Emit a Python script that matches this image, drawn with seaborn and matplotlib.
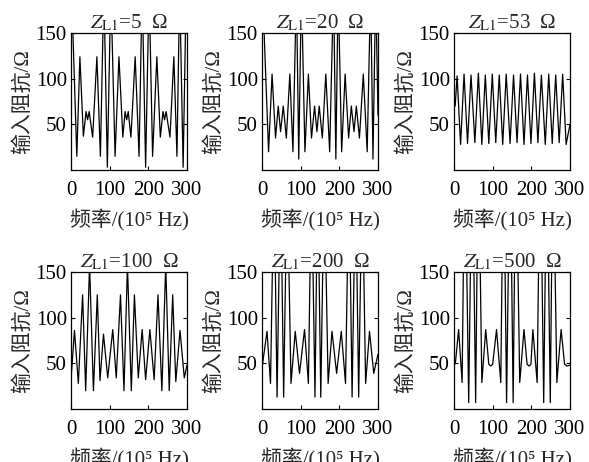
#!/usr/bin/env python3
"""Input impedance vs frequency for six load impedances Z_L1."""

import matplotlib
matplotlib.use("Agg")
import matplotlib.pyplot as plt
import seaborn as sns

# load impedance of each panel (ohm)
loads = ["5", "20", "53", "100", "200", "500"]

# vertices: frequency (10^5 Hz) and |Z_in| (ohm)
x_5 = [2, 15, 23, 32, 39, 43, 47, 56, 67, 76, 85, 94, 103, 114, 124, 134, 140, 144, 148, 155,
       166, 176, 184, 193, 202, 211, 222, 231, 238, 242, 246, 256, 266, 274, 281, 290, 298]
y_5 = [190, 15, 124, 37, 64, 55, 64, 36, 124, 15, 200, 3, 200, 15, 124, 36, 64, 55, 64, 36,
       124, 15, 200, 3, 200, 15, 124, 36, 64, 55, 64, 36, 124, 15, 200, 3, 200]

x_20 = [2, 17, 26, 35, 42, 48, 55, 63, 72, 80, 89, 95, 102, 111, 120, 128, 136, 142, 148, 156,
        165, 175, 185, 191, 197, 206, 215, 224, 231, 238, 244, 252, 262, 272, 281, 287, 294, 300]
y_20 = [190, 20, 105, 35, 70, 42, 70, 35, 105, 20, 200, 12, 200, 20, 105, 35, 70, 42, 70, 35,
        105, 20, 200, 12, 200, 20, 105, 35, 70, 42, 70, 35, 105, 20, 200, 12, 200, 60]

x_53 = [3, 8, 17, 26, 35, 44, 54, 63, 72, 81, 90, 99, 108, 117, 126, 135, 145, 154, 163, 172,
        181, 190, 199, 208, 217, 226, 236, 245, 254, 263, 272, 281, 290, 300]
y_53 = [70, 103, 28, 105, 29, 104, 30, 106, 28, 104, 29, 105, 30, 104, 28, 105, 29, 104, 30, 105,
        28, 104, 29, 106, 30, 104, 28, 105, 29, 104, 30, 105, 28, 50]

x_100 = [1, 9, 19, 30, 38, 48, 58, 68, 75, 84, 95, 108, 117, 128, 137, 146, 156, 164, 174, 184,
         193, 204, 215, 225, 235, 245, 254, 263, 271, 282, 293, 300]
y_100 = [38, 86, 28, 125, 20, 158, 20, 125, 31, 82, 34, 87, 34, 125, 20, 158, 20, 125, 34, 87,
         32, 87, 32, 125, 20, 158, 20, 125, 30, 86, 34, 48]

x_200 = [1, 13, 22, 31, 39, 48, 56, 65, 75, 86, 97, 110, 120, 128, 137, 144, 152, 161, 171, 181,
         193, 205, 216, 225, 233, 242, 250, 259, 268, 278, 289, 300]
y_200 = [48, 85, 28, 260, 13, 260, 13, 260, 28, 85, 39, 87, 28, 260, 13, 260, 13, 260, 28, 85,
         39, 85, 28, 260, 13, 260, 13, 260, 28, 85, 39, 60]

x_500 = [1, 4, 12, 21, 28, 38, 47, 56, 63, 72, 82, 90, 95, 100, 110, 121, 128, 136, 145, 153,
         160, 170, 181, 189, 194, 199, 204, 215, 223, 232, 240, 249, 256, 266, 277, 286, 292, 300]
y_500 = [48, 52, 87, 29, 300, 7, 300, 7, 300, 29, 87, 49, 47, 49, 87, 29, 300, 7, 300, 7,
         300, 29, 87, 49, 47, 49, 87, 29, 300, 7, 300, 7, 300, 29, 87, 49, 47, 48]

series = [(x_5, y_5), (x_20, y_20), (x_53, y_53), (x_100, y_100), (x_200, y_200), (x_500, y_500)]

sns.set_style("ticks")
plt.rcParams["font.family"] = ["Liberation Serif", "Noto Sans CJK SC", "DejaVu Serif"]
plt.rcParams["mathtext.fontset"] = "stix"
plt.rcParams["font.size"] = 14

fig = plt.figure(figsize=(5.89, 4.62), dpi=100)

lefts = [71 / 589, 262 / 589, 454 / 589]
bottoms = [1 - 170 / 462, 1 - 409 / 462]
w, h = 116 / 589, 137 / 462

for i, ((xs, ys), load) in enumerate(zip(series, loads)):
    ax = fig.add_axes([lefts[i % 3], bottoms[i // 3], w, h])
    sns.lineplot(x=xs, y=ys, ax=ax, color="black", lw=0.9, sort=False, estimator=None)
    ax.set_xlim(0, 300)
    ax.set_ylim(0, 150)
    ax.set_xticks([0, 100, 200, 300])
    ax.set_yticks([50, 100, 150])
    ax.tick_params(axis="x", pad=8)
    ax.tick_params(axis="y", pad=3)
    ax.tick_params(direction="in", length=3, width=0.8, labelsize=15,
                   right=True, colors="black")
    for sp in ax.spines.values():
        sp.set_linewidth(0.9)
        sp.set_color("black")
    ax.set_title(r"$Z_{\mathrm{L1}}$=" + load + "  Ω", fontsize=15, pad=3)
    ax.set_xlabel("频率/(10⁵ Hz)", fontsize=15, labelpad=7)
    ax.set_ylabel("输入阻抗/Ω", fontsize=15, labelpad=2)

fig.savefig("out.png", dpi=100)
